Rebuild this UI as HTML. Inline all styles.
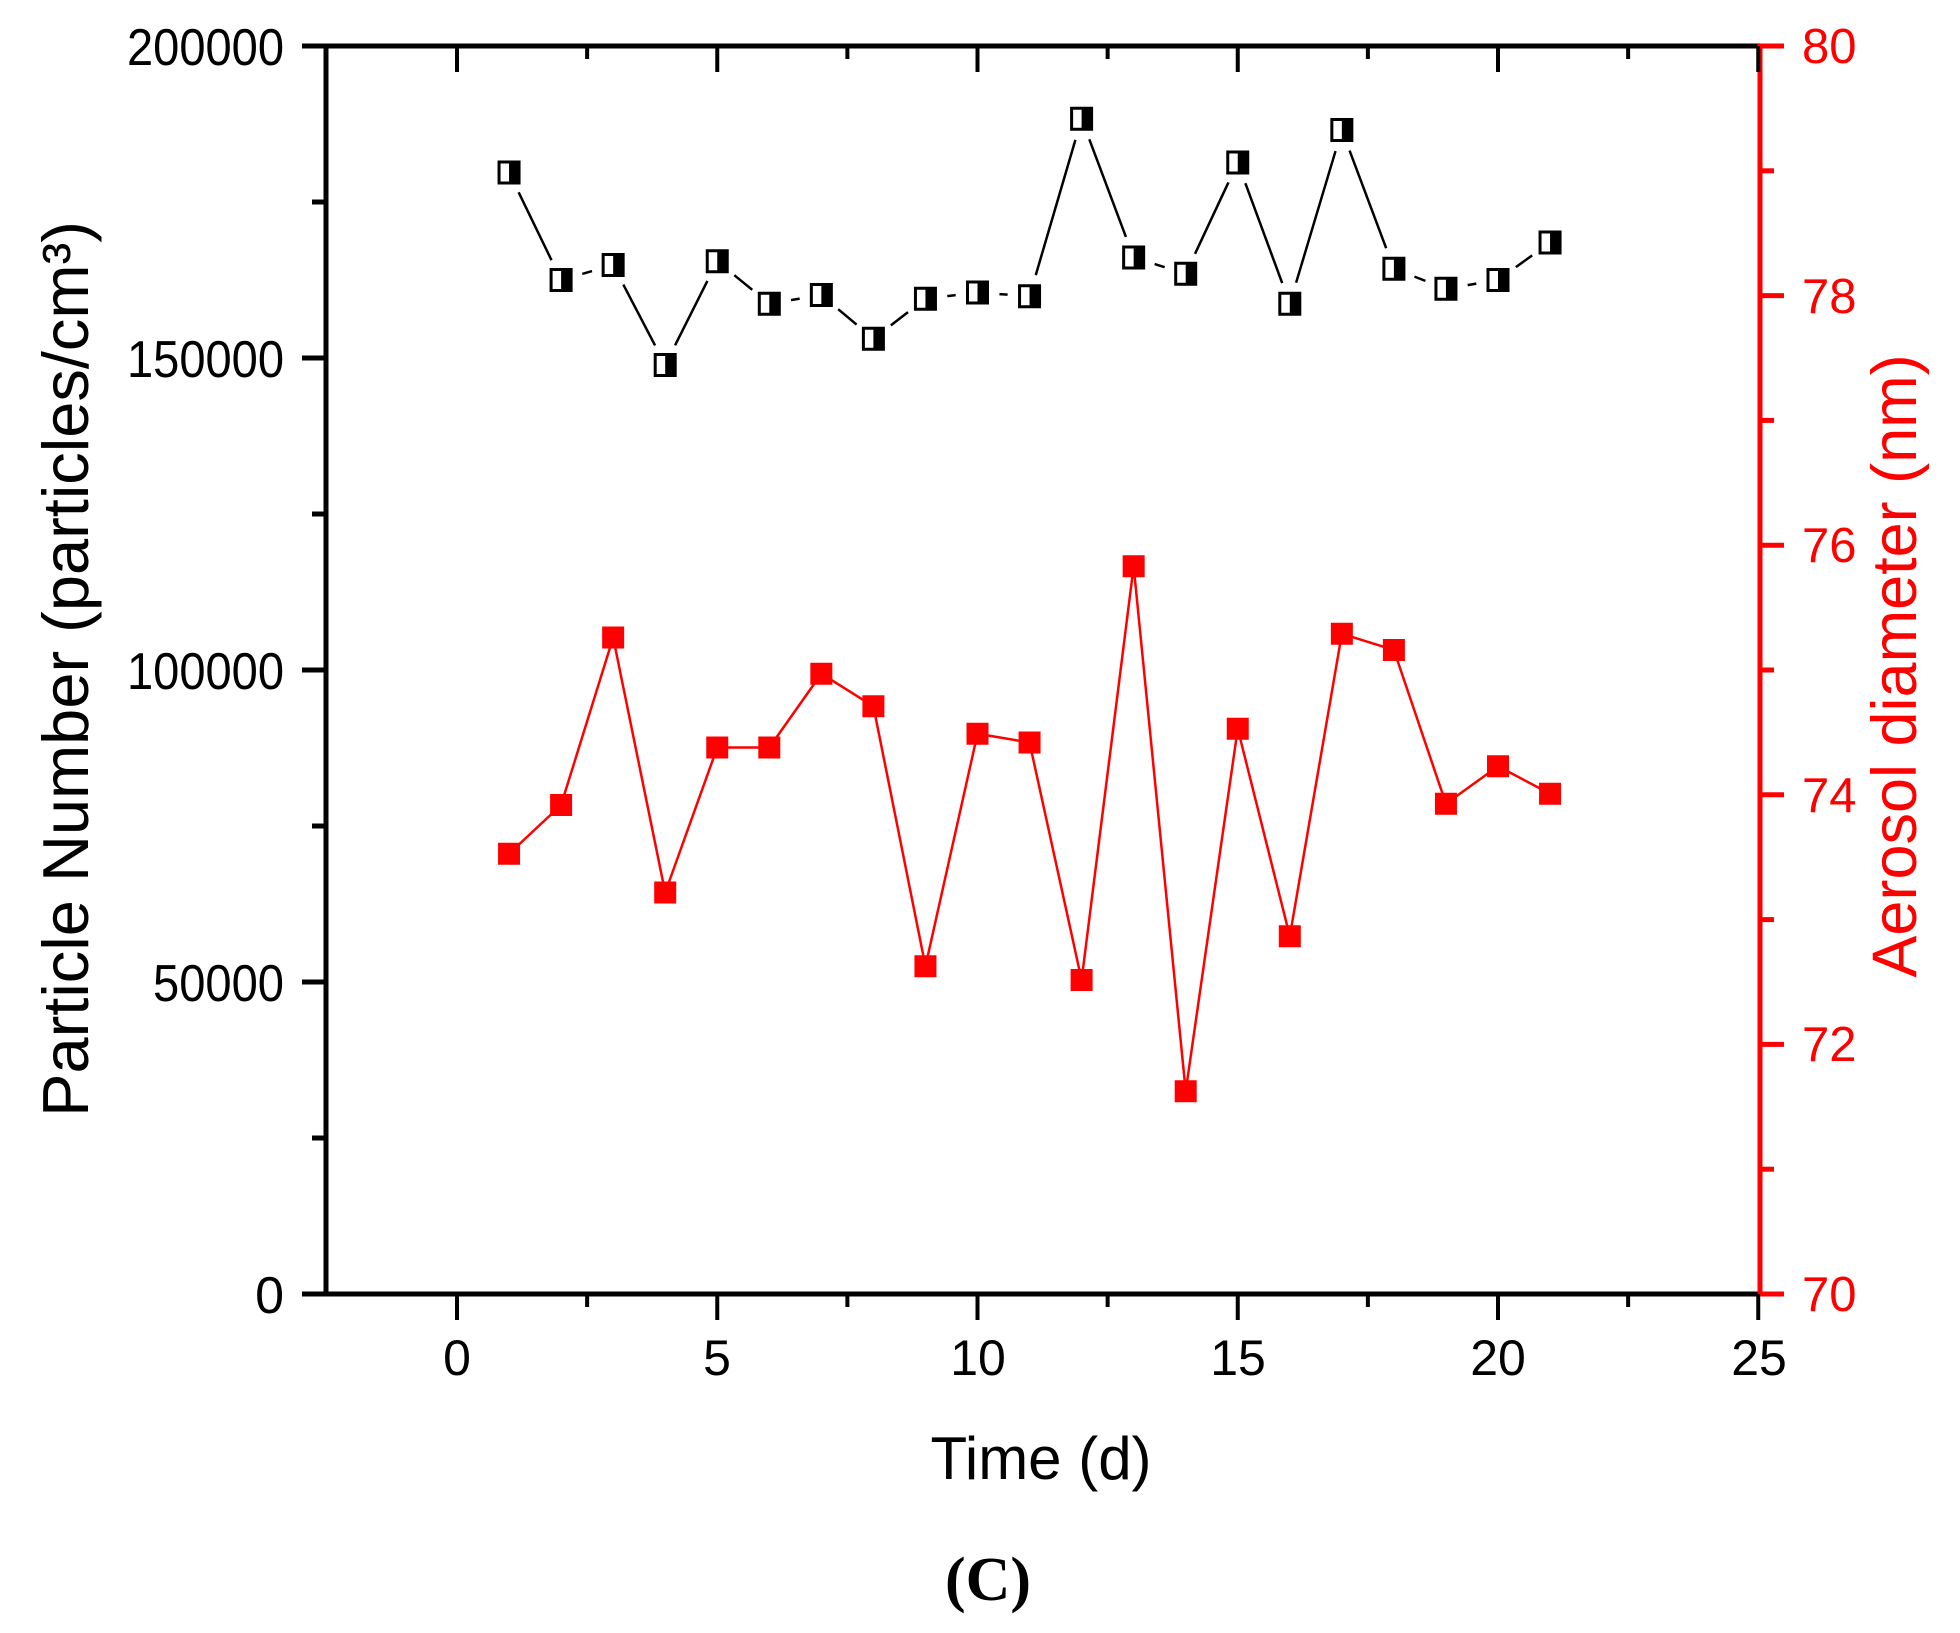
<!DOCTYPE html>
<html><head><meta charset="utf-8"><style>
html,body{margin:0;padding:0;background:#fff;}
svg{display:block;}
text{font-family:"Liberation Sans",Arial,sans-serif;}
</style></head><body>
<svg id="s" width="1960" height="1633" viewBox="0 0 1960 1633" xmlns="http://www.w3.org/2000/svg">
<rect width="1960" height="1633" fill="#fff"/>
<g id="g"></g>
<!-- axes -->
<line x1="302" y1="46" x2="1760" y2="46" stroke="#000" stroke-width="5"/>
<line x1="302" y1="1294" x2="1760" y2="1294" stroke="#000" stroke-width="5"/>
<line x1="326" y1="44" x2="326" y2="1296" stroke="#000" stroke-width="5"/>
<line x1="1760" y1="44" x2="1760" y2="1296" stroke="#f00" stroke-width="5"/>
<g id="ticks"></g>
<!-- left labels -->
<g font-size="52" text-anchor="end" fill="#000">
<text x="284" y="65" textLength="157" lengthAdjust="spacingAndGlyphs">200000</text>
<text x="284" y="377" textLength="157" lengthAdjust="spacingAndGlyphs">150000</text>
<text x="284" y="689" textLength="157" lengthAdjust="spacingAndGlyphs">100000</text>
<text x="284" y="1001" textLength="131" lengthAdjust="spacingAndGlyphs">50000</text>
<text x="284" y="1313">0</text>
</g>
<g font-size="49" text-anchor="start" fill="#f00">
<text x="1802" y="63">80</text>
<text x="1802" y="313">78</text>
<text x="1802" y="562">76</text>
<text x="1802" y="812">74</text>
<text x="1802" y="1061">72</text>
<text x="1802" y="1311">70</text>
</g>
<g font-size="50" text-anchor="middle" fill="#000">
<text x="457" y="1375">0</text>
<text x="717" y="1375">5</text>
<text x="978" y="1375">10</text>
<text x="1238" y="1375">15</text>
<text x="1498" y="1375">20</text>
<text x="1759" y="1375">25</text>
</g>
<text x="1041" y="1479" font-size="60" text-anchor="middle">Time (d)</text>
<text transform="translate(88,669) rotate(-90)" font-size="65" text-anchor="middle">Particle Number (particles/cm³)</text>
<text transform="translate(1916,666) rotate(-90)" font-size="63" text-anchor="middle" fill="#f00">Aerosol diameter (nm)</text>
<text x="988" y="1600" font-size="62" font-weight="bold" text-anchor="middle" style="font-family:'Liberation Serif',serif">(C)</text>
</svg>
<script>
var NS="http://www.w3.org/2000/svg",g=document.getElementById('g'),t=document.getElementById('ticks');
function el(p,n,a){var e=document.createElementNS(NS,n);for(var k in a)e.setAttribute(k,a[k]);p.appendChild(e);return e;}
var x0=457,dx=52.05;
for(var v=-2.5;v<=25.01;v+=2.5){var x=x0+v*dx;var maj=Math.abs(v%5)<0.01;
 if(x<327)continue;
 el(t,'line',{x1:x,y1:1294,x2:x,y2:1294+(maj?26:13),stroke:'#000','stroke-width':4});
 el(t,'line',{x1:x,y1:46,x2:x,y2:46+(maj?26:13),stroke:'#000','stroke-width':4});}
for(var i=0;i<=8;i++){var y=46+i*156;el(t,'line',{x1:326,y1:y,x2:326-(i%2?14:24),y2:y,stroke:'#000','stroke-width':5});}
for(var i=0;i<=10;i++){var y=46+i*124.8;el(t,'line',{x1:1760,y1:y,x2:1760+(i%2?14:24),y2:y,stroke:'#f00','stroke-width':5});}
var blk=[138,224,212,292,209,243,236,271,239,234,237,95,206,219,130,243,104,215,231,224,194];
var red=[683,644,510,714,598,598,539,565,773,587,594,784,453,873,583,749,507,520,643,613,635];
function seg(arr,col,gap){for(var i=0;i<arr.length-1;i++){var xa=x0+(i+1)*dx,ya=arr[i]*1.25,xb=x0+(i+2)*dx,yb=arr[i+1]*1.25;
 var L=Math.hypot(xb-xa,yb-ya);if(L<2*gap)continue;var ux=(xb-xa)/L,uy=(yb-ya)/L;
 el(g,'line',{x1:xa+ux*gap,y1:ya+uy*gap,x2:xb-ux*gap,y2:yb-uy*gap,stroke:col,'stroke-width':2.5});}}
seg(blk,'#000',22);seg(red,'#f00',4);
blk.forEach(function(v,i){var x=x0+(i+1)*dx,y=v*1.25;
 el(g,'rect',{x:x-10,y:y-10.5,width:20,height:21,fill:'#fff',stroke:'#000','stroke-width':3});
 el(g,'rect',{x:x,y:y-10.5,width:10,height:21,fill:'#000'});});
red.forEach(function(v,i){var x=x0+(i+1)*dx,y=v*1.25;
 el(g,'rect',{x:x-11,y:y-11,width:22,height:22,fill:'#f00'});});
</script>
</body></html>
